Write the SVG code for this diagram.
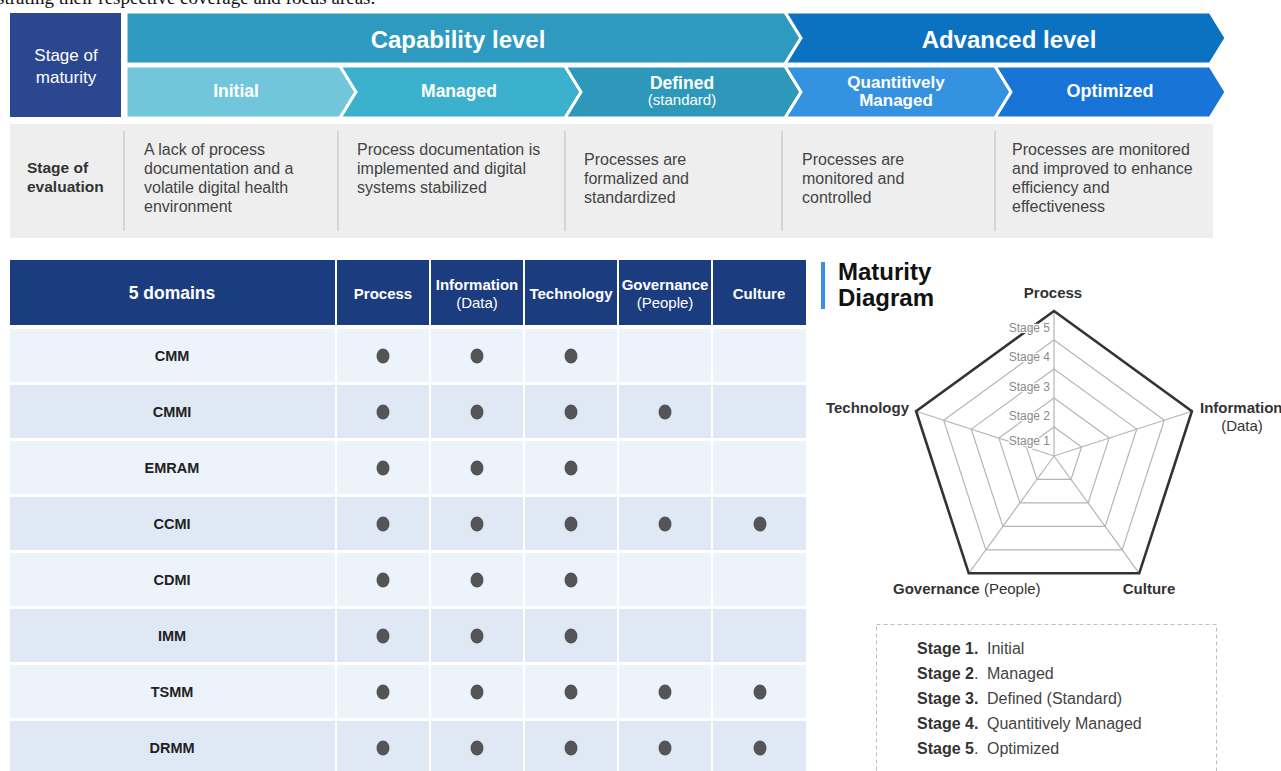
<svg xmlns="http://www.w3.org/2000/svg" width="1281" height="771" viewBox="0 0 1281 771">
<style>
text{font-family:"Liberation Sans",Arial,sans-serif}
.cap{font-family:"Liberation Serif","Times New Roman",serif;font-size:19px;fill:#111}
.wb{fill:#fff;font-weight:bold}
.wn{fill:#fff}
.ev{font-size:16px;fill:#444}
.evb{font-size:15.5px;fill:#333;font-weight:bold}
.th{font-size:15px;fill:#fff;font-weight:bold;text-anchor:middle}
.thn{font-size:15px;fill:#fff;text-anchor:middle}
.rl{font-size:14.5px;fill:#222;font-weight:bold;text-anchor:middle}
.rowA{fill:#ECF3FA}
.rowB{fill:#DEE9F5}
.dot{fill:#555}
.div{stroke:#bbb;stroke-width:1}
.ring{fill:none;stroke:#b5b5b5;stroke-width:1.2}
.spoke{stroke:#b5b5b5;stroke-width:1.2}
.stg{font-size:12px;fill:#8a8a8a;text-anchor:end;stroke:#fff;stroke-width:2.5px;paint-order:stroke}
.ax{font-size:15px;fill:#333;font-weight:bold}
.axn{font-size:15px;fill:#333}
.lgb{font-size:16px;fill:#333;font-weight:bold}
.lgn{font-size:16px;fill:#444}
.chev{stroke:#fff;stroke-width:3;stroke-linejoin:miter}
</style>

<text class="cap" x="-3" y="4">strating their respective coverage and focus areas.</text>

<g id="stage-of-maturity">
  <rect x="10" y="13" width="111" height="104" fill="#2B4790"/>
  <text class="wn" x="66" y="61" font-size="17" text-anchor="middle">Stage of</text>
  <text class="wn" x="66" y="83" font-size="17" text-anchor="middle">maturity</text>
</g>

<g id="capability-level">
  <polygon class="chev" points="126,12 785,12 801,38 785,64 126,64" fill="#2E9ABF"/>
  <text class="wb" x="458" y="48" font-size="24" text-anchor="middle">Capability level</text>
</g>
<g id="advanced-level">
  <polygon class="chev" points="785,12 1210,12 1226,38 1210,64 785,64 801,38" fill="#0B71C1"/>
  <text class="wb" x="1009" y="48" font-size="24" text-anchor="middle">Advanced level</text>
</g>

<g id="initial">
  <polygon class="chev" points="126,66 340,66 356,92 340,118 126,118" fill="#72C6DB"/>
  <text class="wb" x="236" y="97" font-size="17.5" text-anchor="middle">Initial</text>
</g>
<g id="managed">
  <polygon class="chev" points="340,66 565,66 581,92 565,118 340,118 356,92" fill="#3BB1CD"/>
  <text class="wb" x="459" y="97" font-size="17.5" text-anchor="middle">Managed</text>
</g>
<g id="defined">
  <polygon class="chev" points="565,66 785,66 801,92 785,118 565,118 581,92" fill="#2E98BB"/>
  <text class="wb" x="682" y="89" font-size="17.5" text-anchor="middle">Defined</text>
  <text class="wn" x="682" y="105" font-size="15" text-anchor="middle">(standard)</text>
</g>
<g id="quantitively-managed">
  <polygon class="chev" points="785,66 995,66 1011,92 995,118 785,118 801,92" fill="#3592E0"/>
  <text class="wb" x="896" y="87.5" font-size="17" text-anchor="middle">Quantitively</text>
  <text class="wb" x="896" y="106" font-size="17" text-anchor="middle">Managed</text>
</g>
<g id="optimized">
  <polygon class="chev" points="995,66 1210,66 1226,92 1210,118 995,118 1011,92" fill="#1874D6"/>
  <text class="wb" x="1110" y="97" font-size="18" text-anchor="middle">Optimized</text>
</g>

<g id="stage-of-evaluation">
  <rect x="10" y="124" width="1203" height="114" fill="#EEEEEE"/>
  <line class="div" x1="124" y1="131" x2="124" y2="231"/>
  <line class="div" x1="338" y1="131" x2="338" y2="231"/>
  <line class="div" x1="565" y1="131" x2="565" y2="231"/>
  <line class="div" x1="782" y1="131" x2="782" y2="231"/>
  <line class="div" x1="995" y1="131" x2="995" y2="231"/>
  <text class="evb" x="27" y="173">Stage of</text>
  <text class="evb" x="27" y="192">evaluation</text>
  <text class="ev" x="144" y="155">A lack of process</text>
  <text class="ev" x="144" y="174">documentation and a</text>
  <text class="ev" x="144" y="193">volatile digital health</text>
  <text class="ev" x="144" y="212">environment</text>
  <text class="ev" x="357" y="155">Process documentation is</text>
  <text class="ev" x="357" y="174">implemented and digital</text>
  <text class="ev" x="357" y="193">systems stabilized</text>
  <text class="ev" x="584" y="165">Processes are</text>
  <text class="ev" x="584" y="184">formalized and</text>
  <text class="ev" x="584" y="203">standardized</text>
  <text class="ev" x="802" y="165">Processes are</text>
  <text class="ev" x="802" y="184">monitored and</text>
  <text class="ev" x="802" y="203">controlled</text>
  <text class="ev" x="1012" y="155">Processes are monitored</text>
  <text class="ev" x="1012" y="174">and improved to enhance</text>
  <text class="ev" x="1012" y="193">efficiency and</text>
  <text class="ev" x="1012" y="212">effectiveness</text>
</g>

<g id="table-header">
  <rect x="10" y="260" width="325" height="65" fill="#1C3C80"/>
  <rect x="337" y="260" width="92" height="65" fill="#1C3C80"/>
  <rect x="431" y="260" width="92" height="65" fill="#1C3C80"/>
  <rect x="525" y="260" width="92" height="65" fill="#1C3C80"/>
  <rect x="619" y="260" width="92" height="65" fill="#1C3C80"/>
  <rect x="713" y="260" width="93" height="65" fill="#1C3C80"/>
  <text class="wb" x="172" y="299" font-size="17.5" text-anchor="middle">5 domains</text>
  <text class="th" x="383" y="299">Process</text>
  <text class="th" x="477" y="290">Information</text>
  <text class="thn" x="477" y="308">(Data)</text>
  <text class="th" x="571" y="299">Technology</text>
  <text class="th" x="665" y="290">Governance</text>
  <text class="thn" x="665" y="308">(People)</text>
  <text class="th" x="759" y="299">Culture</text>
</g>

<defs>
  <g id="rowcells">
    <rect x="10" y="0" width="325" height="53"/>
    <rect x="337" y="0" width="92" height="53"/>
    <rect x="431" y="0" width="92" height="53"/>
    <rect x="525" y="0" width="92" height="53"/>
    <rect x="619" y="0" width="92" height="53"/>
    <rect x="713" y="0" width="93" height="53"/>
  </g>
  <ellipse id="d" class="dot" rx="6.5" ry="7.5"/>
</defs>

<g id="row-cmm">
  <use href="#rowcells" y="329" class="rowA"/>
  <text class="rl" x="172" y="361">CMM</text>
  <use href="#d" x="383" y="356"/><use href="#d" x="477" y="356"/><use href="#d" x="571" y="356"/>
</g>
<g id="row-cmmi">
  <use href="#rowcells" y="385" class="rowB"/>
  <text class="rl" x="172" y="417">CMMI</text>
  <use href="#d" x="383" y="412"/><use href="#d" x="477" y="412"/><use href="#d" x="571" y="412"/><use href="#d" x="665" y="412"/>
</g>
<g id="row-emram">
  <use href="#rowcells" y="441" class="rowA"/>
  <text class="rl" x="172" y="473">EMRAM</text>
  <use href="#d" x="383" y="468"/><use href="#d" x="477" y="468"/><use href="#d" x="571" y="468"/>
</g>
<g id="row-ccmi">
  <use href="#rowcells" y="497" class="rowB"/>
  <text class="rl" x="172" y="529">CCMI</text>
  <use href="#d" x="383" y="524"/><use href="#d" x="477" y="524"/><use href="#d" x="571" y="524"/><use href="#d" x="665" y="524"/><use href="#d" x="760" y="524"/>
</g>
<g id="row-cdmi">
  <use href="#rowcells" y="553" class="rowA"/>
  <text class="rl" x="172" y="585">CDMI</text>
  <use href="#d" x="383" y="580"/><use href="#d" x="477" y="580"/><use href="#d" x="571" y="580"/>
</g>
<g id="row-imm">
  <use href="#rowcells" y="609" class="rowB"/>
  <text class="rl" x="172" y="641">IMM</text>
  <use href="#d" x="383" y="636"/><use href="#d" x="477" y="636"/><use href="#d" x="571" y="636"/>
</g>
<g id="row-tsmm">
  <use href="#rowcells" y="665" class="rowA"/>
  <text class="rl" x="172" y="697">TSMM</text>
  <use href="#d" x="383" y="692"/><use href="#d" x="477" y="692"/><use href="#d" x="571" y="692"/><use href="#d" x="665" y="692"/><use href="#d" x="760" y="692"/>
</g>
<g id="row-drmm">
  <use href="#rowcells" y="721" class="rowB"/>
  <text class="rl" x="172" y="753">DRMM</text>
  <use href="#d" x="383" y="748"/><use href="#d" x="477" y="748"/><use href="#d" x="571" y="748"/><use href="#d" x="665" y="748"/><use href="#d" x="760" y="748"/>
</g>

<g id="maturity-diagram-title">
  <rect x="821" y="262" width="4" height="47" fill="#3A8FE0"/>
  <text x="838" y="280" font-size="24" font-weight="bold" fill="#111">Maturity</text>
  <text x="838" y="306" font-size="24" font-weight="bold" fill="#111">Diagram</text>
</g>

<g id="radar">
  <g id="spokes">
    <line class="spoke" x1="1054" y1="456" x2="1054" y2="311"/>
    <line class="spoke" x1="1054" y1="456" x2="1191.91" y2="411.2"/>
    <line class="spoke" x1="1054" y1="456" x2="1139.23" y2="573.31"/>
    <line class="spoke" x1="1054" y1="456" x2="968.77" y2="573.31"/>
    <line class="spoke" x1="1054" y1="456" x2="916.09" y2="411.2"/>
  </g>
  <polygon class="ring" points="1054,427 1081.58,447.04 1071.05,479.46 1036.95,479.46 1026.42,447.04"/>
  <polygon class="ring" points="1054,398 1109.16,438.08 1088.09,502.92 1019.91,502.92 998.84,438.08"/>
  <polygon class="ring" points="1054,369 1136.74,429.12 1105.14,526.38 1002.86,526.38 971.26,429.12"/>
  <polygon class="ring" points="1054,340 1164.33,420.16 1122.18,549.84 985.82,549.84 943.67,420.16"/>
  <polygon fill="none" stroke="#333" stroke-width="2.6" stroke-linejoin="miter" points="1054,311 1191.91,411.2 1139.23,573.31 968.77,573.31 916.09,411.2"/>
  <text class="stg" x="1050" y="332">Stage 5</text>
  <text class="stg" x="1050" y="361">Stage 4</text>
  <text class="stg" x="1050" y="391">Stage 3</text>
  <text class="stg" x="1050" y="420">Stage 2</text>
  <text class="stg" x="1050" y="445">Stage 1</text>
  <text class="ax" x="1053" y="298" text-anchor="middle">Process</text>
  <text class="ax" x="909" y="413" text-anchor="end">Technology</text>
  <text class="ax" x="1200" y="413">Information</text>
  <text class="axn" x="1242" y="431" text-anchor="middle">(Data)</text>
  <text x="893" y="594"><tspan class="ax">Governance</tspan><tspan class="axn"> (People)</tspan></text>
  <text class="ax" x="1149" y="594" text-anchor="middle">Culture</text>
</g>

<g id="legend">
  <rect x="876.5" y="624.5" width="340" height="160" fill="none" stroke="#bdbdbd" stroke-width="1" stroke-dasharray="4 3"/>
  <text x="917" y="654"><tspan class="lgb">Stage 1.</tspan><tspan class="lgn" x="987">Initial</tspan></text>
  <text x="917" y="679"><tspan class="lgb">Stage 2</tspan><tspan class="lgn">.</tspan><tspan class="lgn" x="987">Managed</tspan></text>
  <text x="917" y="704"><tspan class="lgb">Stage 3.</tspan><tspan class="lgn" x="987">Defined (Standard)</tspan></text>
  <text x="917" y="729"><tspan class="lgb">Stage 4.</tspan><tspan class="lgn" x="987">Quantitively Managed</tspan></text>
  <text x="917" y="754"><tspan class="lgb">Stage 5</tspan><tspan class="lgn">.</tspan><tspan class="lgn" x="987">Optimized</tspan></text>
</g>
</svg>
